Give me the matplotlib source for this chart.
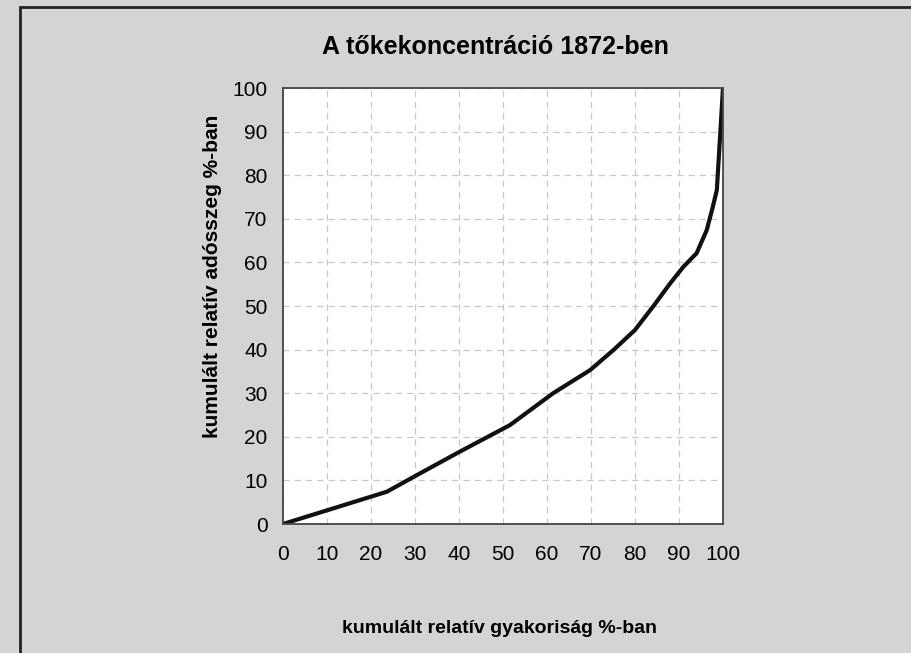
import matplotlib.pyplot as plt
from matplotlib.patches import Rectangle
import numpy as np

# cumulative relative frequency (%) vs cumulative relative debt (%)
freq = [0, 23.6, 30.4, 40.2, 51.6, 61.4, 69.8, 75.1, 80.0, 84.2, 88.0, 91.0,
        94.0, 96.3, 97.7, 98.6, 100]
debt = [0, 7.4, 11.2, 16.6, 22.7, 30.0, 35.3, 39.9, 44.5, 50.0, 55.2, 59.0,
        62.1, 67.4, 72.8, 76.6, 100]

ticks = np.arange(0, 101, 10)

plt.rcParams["font.family"] = ["Liberation Sans", "DejaVu Sans"]

W, H = 911, 653
fig = plt.figure(figsize=(W / 100, H / 100), dpi=100)
fig.patch.set_facecolor("#d4d4d4")

# scanned page frame
fig.patches.append(Rectangle((20 / W, -0.05), 1.1, 1 - 7 / H + 0.05,
                             transform=fig.transFigure, fill=False,
                             edgecolor="#222222", linewidth=2))

ax = fig.add_axes([283 / W, 1 - 524 / H, 440 / W, 436 / H])
ax.set_facecolor("white")
ax.plot(freq, debt, color="#111111", linewidth=3, solid_joinstyle="round")

ax.set_xlim(0, 100)
ax.set_ylim(0, 100)
ax.set_xticks(ticks)
ax.set_yticks(ticks)
ax.tick_params(length=0, labelsize=15)
ax.tick_params(axis="x", pad=15)
ax.tick_params(axis="y", pad=11)
ax.grid(True, linestyle=(0, (5, 4)), color="#c8c8c8", linewidth=0.9)
for s in ax.spines.values():
    s.set_color("#444444")
    s.set_linewidth(1.3)

ax.set_xlabel("kumulált relatív gyakoriság %-ban", fontsize=14, fontweight="bold", va="center")
ax.xaxis.set_label_coords(0.493, -0.239)
ax.set_ylabel("kumulált relatív adósszeg %-ban", fontsize=15, fontweight="bold", va="center")
ax.yaxis.set_label_coords(-0.16, 0.567)
fig.text(495 / W, 1 - 47 / H, "A tőkekoncentráció 1872-ben", ha="center", va="center",
         fontsize=18, fontweight="bold")

fig.savefig("out.png", dpi=100, facecolor=fig.get_facecolor())
